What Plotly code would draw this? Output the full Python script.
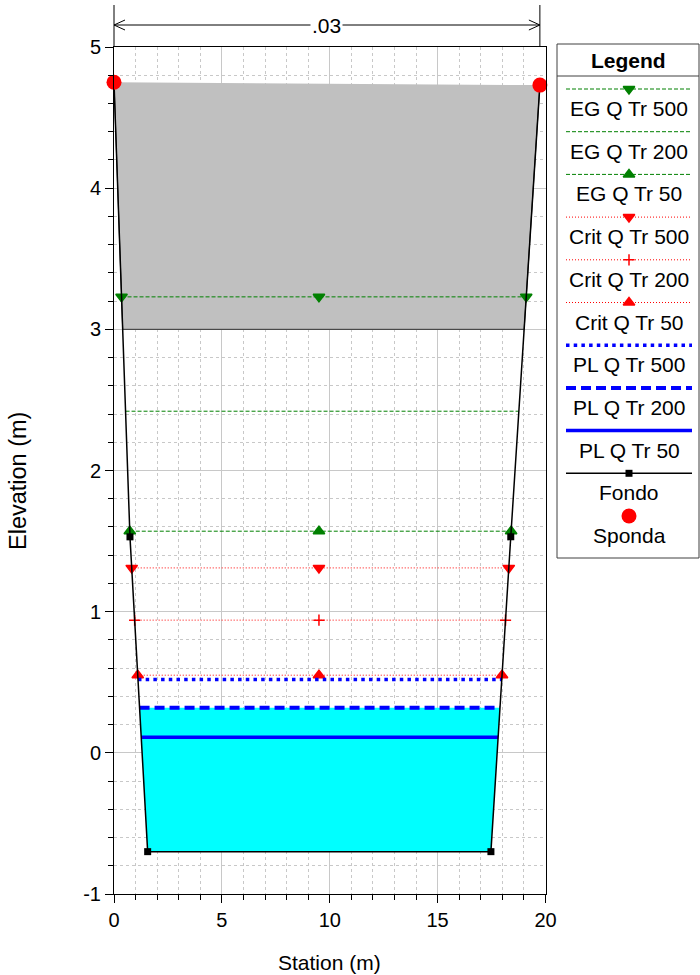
import plotly.graph_objects as go

# ---------------- data ----------------
ground_sta = [0.0, 0.74, 1.56, 17.47, 18.39, 19.74]
ground_elev = [4.75, 1.53, -0.70, -0.70, 1.53, 4.73]
bank_sta = [0.0, 19.74]
bank_elev = [4.75, 4.73]
deck_low_chord = 3.00
profile_names = ["EG Q Tr 500", "EG Q Tr 200", "EG Q Tr 50",
                 "Crit Q Tr 500", "Crit Q Tr 200", "Crit Q Tr 50",
                 "PL Q Tr 500", "PL Q Tr 200", "PL Q Tr 50"]
profile_elev = [3.23, 2.42, 1.57, 1.31, 0.94, 0.55, 0.52, 0.32, 0.11]
marker_mid_sta = 9.5
water_fill_profile = "PL Q Tr 200"
manning_n_label = ".03"
x_ticks = [0, 5, 10, 15, 20]
y_ticks = [-1, 0, 1, 2, 3, 4, 5]

# ---------------- styles ----------------
GREEN, RED, BLUE = "#008000", "#ff0000", "#0000ff"
profile_styles = {
    "EG Q Tr 500": dict(color=GREEN, width=1, dash="4px,2px", symbol="triangle-down", size=10),
    "EG Q Tr 200": dict(color=GREEN, width=1, dash="4px,2px", symbol=None, size=0),
    "EG Q Tr 50": dict(color=GREEN, width=1, dash="4px,2px", symbol="triangle-up", size=10),
    "Crit Q Tr 500": dict(color=RED, width=1, dash="1px,2px", symbol="triangle-down", size=10),
    "Crit Q Tr 200": dict(color=RED, width=1, dash="1px,2px", symbol="cross-thin", size=8),
    "Crit Q Tr 50": dict(color=RED, width=1, dash="1px,2px", symbol="triangle-up", size=10),
    "PL Q Tr 500": dict(color=BLUE, width=3.5, dash="3.5px,4.2px", symbol=None, size=0),
    "PL Q Tr 200": dict(color=BLUE, width=4, dash="10px,5px", symbol=None, size=0),
    "PL Q Tr 50": dict(color=BLUE, width=3.5, dash="solid", symbol=None, size=0),
}
FONT = "Liberation Sans, Arial, sans-serif"

W, H = 700, 975
# plot area in pixels
PX0, PX1, PY0, PY1 = 114.0, 545.5, 47.0, 894.0
XR, YR = (0, 20), (-1, 5)


def px(xp):
    return xp / W


def py(yp):
    return 1 - yp / H


def sta_to_px(s):
    return PX0 + (s - XR[0]) / (XR[1] - XR[0]) * (PX1 - PX0)


def bank_x(z, side):
    s, e = ground_sta, ground_elev
    emin = min(e)
    imin = e.index(emin)
    jmin = len(e) - 1 - e[::-1].index(emin)
    if side == "left":
        for i in range(0, imin):
            if e[i] >= z >= e[i + 1]:
                return s[i] + (e[i] - z) / (e[i] - e[i + 1]) * (s[i + 1] - s[i])
    else:
        for i in range(jmin, len(e) - 1):
            if e[i] <= z <= e[i + 1]:
                return s[i] + (z - e[i]) / (e[i + 1] - e[i]) * (s[i + 1] - s[i])
    return None


fig = go.Figure()

# bridge deck (gray)
fig.add_trace(go.Scatter(
    x=[ground_sta[0], bank_x(deck_low_chord, "left"), bank_x(deck_low_chord, "right"), ground_sta[-1]],
    y=[ground_elev[0], deck_low_chord, deck_low_chord, ground_elev[-1]],
    fill="toself", fillcolor="#c0c0c0", mode="lines",
    line=dict(color="#303030", width=1), showlegend=False, hoverinfo="skip"))

# water fill
wz = profile_elev[profile_names.index(water_fill_profile)]
wx = [bank_x(wz, "left")] + [s for s, e in zip(ground_sta, ground_elev) if e < wz] + [bank_x(wz, "right")]
wy = [wz] + [e for e in ground_elev if e < wz] + [wz]
fig.add_trace(go.Scatter(x=wx, y=wy, fill="toself", fillcolor="#00ffff", mode="lines",
                         line=dict(width=0), showlegend=False, hoverinfo="skip"))

# profile lines
for name, z in zip(profile_names, profile_elev):
    st = profile_styles[name]
    xl, xr = bank_x(z, "left"), bank_x(z, "right")
    fig.add_trace(go.Scatter(x=[xl, xr], y=[z, z], mode="lines",
                             line=dict(color=st["color"], width=st["width"], dash=st["dash"]),
                             showlegend=False, name=name))
    if st["symbol"]:
        fig.add_trace(go.Scatter(x=[xl, marker_mid_sta, xr], y=[z, z, z], mode="markers",
                                 marker=dict(symbol=st["symbol"], color=st["color"], size=st["size"],
                                             line=dict(color=st["color"], width=1.5)),
                                 showlegend=False, name=name, cliponaxis=False))

# ground
fig.add_trace(go.Scatter(x=ground_sta, y=ground_elev, mode="lines",
                         line=dict(color="black", width=1.5), showlegend=False, name="Fondo"))
fig.add_trace(go.Scatter(x=ground_sta[1:-1], y=ground_elev[1:-1], mode="markers",
                         marker=dict(symbol="square", color="black", size=7),
                         showlegend=False, name="Fondo"))
# banks
fig.add_trace(go.Scatter(x=bank_sta, y=bank_elev, mode="markers",
                         marker=dict(symbol="circle", color=RED, size=15),
                         showlegend=False, name="Sponda", cliponaxis=False))

# ---------------- custom legend ----------------
LX0, LX1, LY0, LY1 = 557.0, 699.0, 44.0, 558.0
LCX = (566 + 692) / 2
legend_items = profile_names + ["Fondo", "Sponda"]
shapes = []
annotations = []
for i, name in enumerate(legend_items):
    yl = 89 + 42.7 * i
    if name in profile_styles:
        st = profile_styles[name]
        fig.add_trace(go.Scatter(x=[566, 692], y=[yl, yl], mode="lines", xaxis="x2", yaxis="y2",
                                 line=dict(color=st["color"], width=st["width"], dash=st["dash"]),
                                 showlegend=False, hoverinfo="skip"))
        if st["symbol"]:
            fig.add_trace(go.Scatter(x=[LCX], y=[yl], mode="markers", xaxis="x2", yaxis="y2",
                                     marker=dict(symbol=st["symbol"], color=st["color"], size=st["size"],
                                                 line=dict(color=st["color"], width=1.5)),
                                     showlegend=False, hoverinfo="skip", cliponaxis=False))
    elif name == "Fondo":
        fig.add_trace(go.Scatter(x=[566, 692], y=[yl, yl], mode="lines",
                                 xaxis="x2", yaxis="y2", line=dict(color="black", width=1.5),
                                 showlegend=False, hoverinfo="skip"))
        fig.add_trace(go.Scatter(x=[LCX], y=[yl], mode="markers",
                                 xaxis="x2", yaxis="y2",
                                 marker=dict(symbol="square", color="black", size=7),
                                 showlegend=False, hoverinfo="skip", cliponaxis=False))
    else:
        fig.add_trace(go.Scatter(x=[LCX], y=[yl], mode="markers", xaxis="x2", yaxis="y2",
                                 marker=dict(symbol="circle", color=RED, size=15),
                                 showlegend=False, hoverinfo="skip", cliponaxis=False))
    annotations.append(dict(x=px(LCX), y=py(yl + 19.5), xref="paper", yref="paper",
                            text=name, showarrow=False, font=dict(size=21, color="black", family=FONT),
                            xanchor="center", yanchor="middle"))

annotations.append(dict(x=px((LX0 + LX1) / 2), y=py(60), xref="paper", yref="paper",
                        text="<b>Legend</b>", showarrow=False,
                        font=dict(size=21, color="black", family=FONT),
                        xanchor="center", yanchor="middle"))
shapes.append(dict(type="rect", xref="paper", yref="paper", x0=px(LX0), x1=px(LX1),
                   y0=py(LY1), y1=py(LY0), line=dict(color="#404040", width=1)))
shapes.append(dict(type="line", xref="paper", yref="paper", x0=px(LX0), x1=px(LX1),
                   y0=py(76), y1=py(76), line=dict(color="#404040", width=1)))

# ---------------- Manning n dimension line ----------------
bx0, bx1 = sta_to_px(bank_sta[0]), sta_to_px(bank_sta[1])
for bx in (bx0, bx1):
    shapes.append(dict(type="line", xref="paper", yref="paper", x0=px(bx), x1=px(bx),
                       y0=py(5), y1=py(PY0), line=dict(color="black", width=1)))
shapes.append(dict(type="line", xref="paper", yref="paper", x0=px(bx0), x1=px(bx1),
                   y0=py(25), y1=py(25), line=dict(color="black", width=1)))
for tip, d in ((bx0, 1), (bx1, -1)):
    path = "M {} {} L {} {} L {} {}".format(px(tip + d * 11), py(20), px(tip), py(25),
                                             px(tip + d * 11), py(30))
    shapes.append(dict(type="path", xref="paper", yref="paper", path=path,
                       line=dict(color="black", width=1)))
annotations.append(dict(x=px((bx0 + bx1) / 2), y=py(25), xref="paper", yref="paper",
                        text=manning_n_label, showarrow=False, bgcolor="white",
                        font=dict(size=21, color="black", family=FONT),
                        xanchor="center", yanchor="middle"))

# axis titles
annotations.append(dict(x=px((PX0 + PX1) / 2), y=py(962), xref="paper", yref="paper",
                        text="Station (m)", showarrow=False,
                        font=dict(size=21, color="black", family=FONT),
                        xanchor="center", yanchor="middle"))
annotations.append(dict(x=px(18), y=py(481), xref="paper", yref="paper",
                        text="Elevation (m)", showarrow=False, textangle=-90,
                        font=dict(size=23.5, color="black", family=FONT),
                        xanchor="center", yanchor="middle"))

GRID = "#c8c8c8"
axis_common = dict(showline=True, linecolor="black", linewidth=1, mirror=True,
                   ticks="outside", ticklen=8, tickcolor="black", tickwidth=1,
                   showgrid=True, gridcolor=GRID, gridwidth=1, zeroline=False,
                   automargin=False,
                   tickfont=dict(size=20, color="black", family=FONT))

fig.update_layout(
    width=W, height=H, margin=dict(l=0, r=0, t=0, b=0, pad=0, autoexpand=False),
    paper_bgcolor="white", plot_bgcolor="white", showlegend=False,
    xaxis=dict(domain=[px(PX0), px(PX1)], range=list(XR), tickvals=x_ticks,
               ticktext=[str(v) for v in x_ticks],
               minor=dict(dtick=1, tick0=0, ticks="outside", ticklen=5, tickcolor="black",
                          showgrid=True, gridcolor=GRID, griddash="3px,3px"),
               **axis_common),
    yaxis=dict(domain=[py(PY1), py(PY0)], range=list(YR), tickvals=y_ticks,
               ticktext=[str(v) for v in y_ticks],
               minor=dict(dtick=0.2, tick0=0, ticks="outside", ticklen=5, tickcolor="black",
                          showgrid=True, gridcolor=GRID, griddash="3px,3px"),
               **axis_common),
    xaxis2=dict(domain=[px(LX0), px(LX1)], range=[LX0, LX1], visible=False, anchor="y2"),
    yaxis2=dict(domain=[py(LY1), py(LY0)], range=[LY1, LY0], visible=False, anchor="x2"),
    shapes=shapes, annotations=annotations,
    font=dict(family=FONT, color="black"),
)

fig.write_html("out.html", config={"displayModeBar": False},
               post_script="document.body.style.margin='0px';document.body.style.overflow='hidden';")
